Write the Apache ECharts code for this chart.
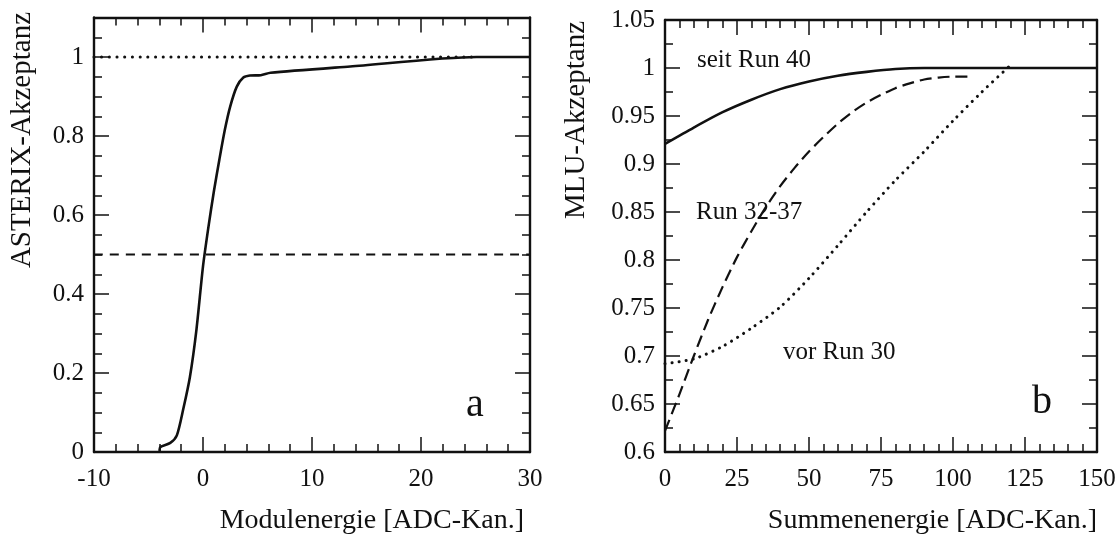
<!DOCTYPE html>
<html>
<head>
<meta charset="utf-8">
<script src="https://cdn.jsdelivr.net/npm/echarts@6/dist/echarts.min.js"></script>
<style>
  html, body { margin: 0; padding: 0; background: #fff; }
  #chart { width: 1120px; height: 540px; }
</style>
</head>
<body>
<div id="chart"></div>
<script>
// Panel a: ASTERIX acceptance vs module energy
var aXTicks = [-10, 0, 10, 20, 30];
var aYTicks = [0, 0.2, 0.4, 0.6, 0.8, 1];
var aSolid = [
  [-4, 0.003], [-3.9, 0.013], [-3.0, 0.023], [-2.4, 0.042], [-1.8, 0.11],
  [-1.2, 0.19], [-0.6, 0.31], [0.0, 0.47], [0.5, 0.57],
  [1.0, 0.66], [1.5, 0.74], [2.0, 0.815], [2.5, 0.875], [3.1, 0.925],
  [3.7, 0.948], [4.3, 0.953], [5.3, 0.954], [6.2, 0.96], [13.5, 0.976],
  [25.1, 1.0], [30, 1.0]
];
var aDotted = [[-10, 1], [25, 1]];
var aDashed = [[-10, 0.5], [30, 0.5]];

// Panel b: MLU acceptance vs sum energy
var bXTicks = [0, 25, 50, 75, 100, 125, 150];
var bYTicks = [0.6, 0.65, 0.7, 0.75, 0.8, 0.85, 0.9, 0.95, 1, 1.05];
var bSeit40 = [
  [0, 0.921], [10, 0.938], [20, 0.954], [30, 0.967],
  [40, 0.978], [50, 0.986], [60, 0.992], [70, 0.996], [80, 0.999], [90, 1.0], [150, 1.0]
];
var bRun3237 = [
  [0, 0.622], [5, 0.66], [10, 0.7], [15, 0.738], [20, 0.772], [25, 0.803],
  [30, 0.83], [35, 0.855], [40, 0.877], [45, 0.896], [50, 0.913], [55, 0.928],
  [60, 0.942], [65, 0.954], [70, 0.964], [75, 0.972], [80, 0.979], [85, 0.984],
  [90, 0.988], [95, 0.99], [100, 0.991], [105, 0.991]
];
var bVor30 = [
  [0, 0.692], [10, 0.697], [20, 0.71], [30, 0.729], [40, 0.751], [50, 0.781],
  [60, 0.815], [70, 0.85], [80, 0.883], [90, 0.913], [100, 0.945], [110, 0.975], [120, 1.003]
];

var FONT = '"Liberation Serif", "DejaVu Serif", serif';
var INK = '#111';

// builds 4 axes for one side pair: labelled major, minor, mirrored major, mirrored minor
function makeAxes(grid, ticks, max, minor, pos, mirrorPos) {
  var min = ticks[0];
  var major = ticks[1] - ticks[0];
  var isX = (pos === 'bottom');
  function ax(p, step, len, labels, line) {
    return {
      type: 'value', gridIndex: grid, position: p,
      min: min, max: max, interval: step,
      axisLine: { show: line, onZero: false, lineStyle: { color: INK, width: 2.4 } },
      axisTick: { show: true, inside: true, length: len, lineStyle: { color: INK, width: 1.5 } },
      splitLine: { show: false },
      axisLabel: {
        show: labels,
        margin: isX ? 15 : 10,
        color: INK, fontFamily: FONT, fontSize: 25,
        showMaxLabel: true,
        formatter: function (v) {
          for (var i = 0; i < ticks.length; i++) {
            if (Math.abs(ticks[i] - v) < 1e-9) return String(ticks[i]);
          }
          return '';
        }
      }
    };
  }
  return [
    ax(pos, major, 15, true, true),
    ax(pos, minor, 8, false, false),
    ax(mirrorPos, major, 15, false, true),
    ax(mirrorPos, minor, 8, false, false)
  ];
}

var xAxes = makeAxes(0, aXTicks, 30, 2, 'bottom', 'top')
  .concat(makeAxes(1, bXTicks, 150, 5, 'bottom', 'top'));
var yAxes = makeAxes(0, aYTicks, 1.1, 0.05, 'left', 'right')
  .concat(makeAxes(1, bYTicks, 1.05, 0.025, 'left', 'right'));

function line(data, xi, yi, width, dash, cap) {
  return {
    type: 'line', data: data, xAxisIndex: xi, yAxisIndex: yi,
    showSymbol: false, symbol: 'none', smooth: 0.25,
    lineStyle: { color: INK, width: width, type: dash || 'solid', cap: cap || 'butt' },
    silent: true, animation: false
  };
}

function txt(s, x, y, size, align, rot) {
  return {
    type: 'text', x: x, y: y, rotation: rot || 0, silent: true,
    style: {
      text: s, font: size + 'px ' + FONT, fill: INK,
      textAlign: align || 'left', textVerticalAlign: 'middle'
    }
  };
}

var chart = echarts.init(document.getElementById('chart'));
chart.setOption({
  backgroundColor: '#fff',
  animation: false,
  grid: [
    { left: 94, right: 590, top: 17.5, bottom: 88 },
    { left: 665, right: 23, top: 20, bottom: 88 }
  ],
  xAxis: xAxes,
  yAxis: yAxes,
  series: [
    line(aDotted, 0, 0, 3, [0.1, 7.6], 'round'),
    line(aDashed, 0, 0, 2, [9, 7]),
    line(aSolid, 0, 0, 2.6),
    line(bSeit40, 4, 4, 2.6),
    line(bRun3237, 4, 4, 2.2, [12, 6]),
    line(bVor30, 4, 4, 3, [0.1, 7], 'round')
  ],
  graphic: [
    txt('Modulenergie [ADC-Kan.]', 524, 521, 28, 'right'),
    txt('Summenenergie [ADC-Kan.]', 1097, 521, 28, 'right'),
    txt('ASTERIX-Akzeptanz', 22, 12, 29, 'right', Math.PI / 2),
    txt('MLU-Akzeptanz', 576, 21, 29, 'right', Math.PI / 2),
    txt('a', 475, 405, 40, 'center'),
    txt('b', 1042, 402, 40, 'center'),
    txt('seit Run 40', 697, 60, 25),
    txt('Run 32-37', 696, 212, 25),
    txt('vor Run 30', 783, 352, 25)
  ]
});
</script>
</body>
</html>
